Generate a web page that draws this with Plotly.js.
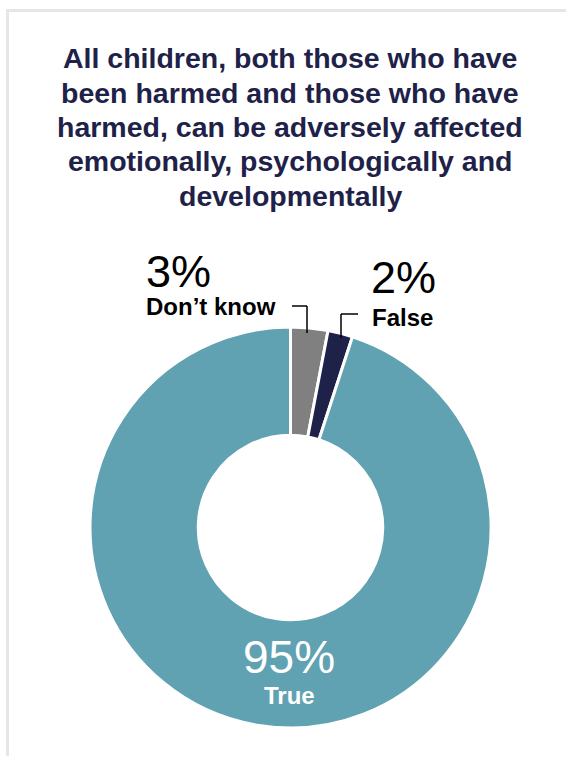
<!DOCTYPE html>
<html><head><meta charset="utf-8">
<script src="https://cdn.plot.ly/plotly-3.0.1.min.js"></script>
<style>body{margin:0;padding:0;background:#fff}#chart{width:566px;height:758px}</style>
</head><body><div id="chart"></div>
<script>
const categories = ["Don’t know", "False", "True"];
const values = [3, 2, 95];
const pctLabels = ["3%", "2%", "95%"];
const colors = ["#808080", "#1f2248", "#61a2b2"];
const titleLines = [
  "All children, both those who have",
  "been harmed and those who have",
  "harmed, can be adversely affected",
  "emotionally, psychologically and",
  "developmentally"
];

const W = 566, H = 758;
const px = x => x / W, py = y => 1 - y / H;
const font = "Liberation Sans, Arial, Helvetica, sans-serif";

const trace = {
  type: "pie", hole: 0.46, sort: false, direction: "clockwise", rotation: 0,
  labels: categories, values: values,
  marker: {colors: colors, line: {color: "#ffffff", width: 3}},
  textinfo: "none", hoverinfo: "label+percent", showlegend: false,
  domain: {x: [px(90), px(491)], y: [py(728), py(327)]}
};

const titleBaselines = [67, 102, 136, 170, 205];
const titleAnns = titleLines.map((t, i) => ({
  x: px(290), y: py(titleBaselines[i] - 9), text: "<b>" + t + "</b>",
  font: {size: 28.5, color: "#1f2248", family: font}
}));

const annotations = titleAnns.concat([
  {x: px(178), y: py(271), text: pctLabels[0], font: {size: 45, color: "#000", family: font}},
  {x: px(211), y: py(306), text: "<b>" + categories[0] + "</b>", font: {size: 24, color: "#000", family: font}},
  {x: px(403), y: py(277), text: pctLabels[1], font: {size: 45, color: "#000", family: font}},
  {x: px(402), y: py(317), text: "<b>" + categories[1] + "</b>", font: {size: 24, color: "#000", family: font}},
  {x: px(289), y: py(657), text: pctLabels[2], font: {size: 46, color: "#fff", family: font}},
  {x: px(289), y: py(695), text: "<b>" + categories[2] + "</b>", font: {size: 24, color: "#fff", family: font}}
]).map(a => Object.assign({xref: "paper", yref: "paper", showarrow: false, xanchor: "center", yanchor: "middle"}, a));

const lineStyle = {color: "#000", width: 1.5};
const shapes = [
  {type: "line", xref: "paper", yref: "paper", x0: px(7.5), x1: px(7.5), y0: py(10), y1: py(756), line: {color: "#e6e6e6", width: 3}},
  {type: "line", xref: "paper", yref: "paper", x0: px(6), x1: px(566), y0: py(10.5), y1: py(10.5), line: {color: "#e6e6e6", width: 3}},
  {type: "line", xref: "paper", yref: "paper", x0: px(292), x1: px(307), y0: py(306), y1: py(306), line: lineStyle},
  {type: "line", xref: "paper", yref: "paper", x0: px(307), x1: px(307), y0: py(306), y1: py(333), line: lineStyle},
  {type: "line", xref: "paper", yref: "paper", x0: px(358), x1: px(341), y0: py(314), y1: py(314), line: lineStyle},
  {type: "line", xref: "paper", yref: "paper", x0: px(341), x1: px(341), y0: py(314), y1: py(338), line: lineStyle}
];

const layout = {
  width: W, height: H, margin: {l: 0, r: 0, t: 0, b: 0},
  paper_bgcolor: "#fff",
  annotations: annotations, shapes: shapes
};
Plotly.newPlot("chart", [trace], layout, {displayModeBar: false, staticPlot: true});
</script></body></html>
